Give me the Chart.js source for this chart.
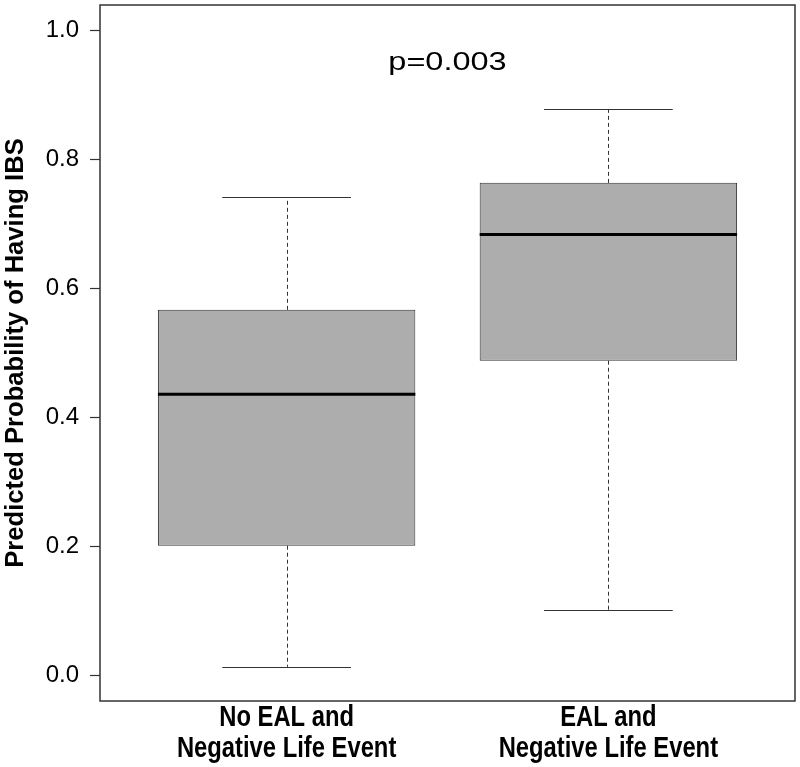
<!DOCTYPE html>
<html>
<head>
<meta charset="utf-8">
<script src="https://cdn.jsdelivr.net/npm/chart.js@4.4.1/dist/chart.umd.min.js"></script>
<style>
  html, body { margin: 0; padding: 0; background: #fff; }
  canvas { display: block; }
</style>
</head>
<body>
<canvas id="chart" width="800" height="767"></canvas>
<script>
// box plot values
const groups = [['No EAL and', 'Negative Life Event'], ['EAL and', 'Negative Life Event']]
const positions = [1, 2]
const lowerWhisker = [0.013, 0.101]
const q1 = [0.201, 0.488]
const median = [0.436, 0.684]
const q3 = [0.567, 0.764]
const upperWhisker = [0.742, 0.878]
const yTicks = [0.0, 0.2, 0.4, 0.6, 0.8, 1.0]
const pLabel = 'p=0.003'
const pPosition = [1.5, 0.95]

const boxWidth = 0.8
const capWidth = 0.4

const boxPlotPlugin = {
  id: 'boxPlot',
  afterDatasetsDraw (chart) {
    const ctx = chart.ctx
    const x = chart.scales.x
    const y = chart.scales.y
    ctx.save()
    positions.forEach((pos, i) => {
      const cx = Math.round(x.getPixelForValue(pos)) + 0.5
      // whiskers
      ctx.strokeStyle = '#333'
      ctx.lineWidth = 1
      ctx.setLineDash([4, 3])
      ctx.beginPath()
      ctx.moveTo(cx, y.getPixelForValue(q3[i]))
      ctx.lineTo(cx, y.getPixelForValue(upperWhisker[i]))
      ctx.moveTo(cx, y.getPixelForValue(q1[i]))
      ctx.lineTo(cx, y.getPixelForValue(lowerWhisker[i]))
      ctx.stroke()
      // caps
      ctx.setLineDash([])
      ctx.beginPath()
      const cl = x.getPixelForValue(pos - capWidth / 2)
      const cr = x.getPixelForValue(pos + capWidth / 2)
      const top = Math.round(y.getPixelForValue(upperWhisker[i])) + 0.5
      const bottom = Math.round(y.getPixelForValue(lowerWhisker[i])) + 0.5
      ctx.moveTo(cl, top)
      ctx.lineTo(cr, top)
      ctx.moveTo(cl, bottom)
      ctx.lineTo(cr, bottom)
      ctx.stroke()
      // median
      ctx.strokeStyle = '#000'
      ctx.lineWidth = 3
      ctx.beginPath()
      ctx.moveTo(x.getPixelForValue(pos - boxWidth / 2), y.getPixelForValue(median[i]))
      ctx.lineTo(x.getPixelForValue(pos + boxWidth / 2), y.getPixelForValue(median[i]))
      ctx.stroke()
    })
    // p value annotation
    ctx.font = '26px "Liberation Sans", Arial, sans-serif'
    ctx.fillStyle = '#000'
    ctx.textAlign = 'center'
    ctx.textBaseline = 'middle'
    ctx.translate(x.getPixelForValue(pPosition[0]), y.getPixelForValue(pPosition[1]))
    ctx.scale(1.25, 1)
    ctx.fillText(pLabel, 0, 0)
    ctx.restore()
  },
  afterDraw (chart) {
    const a = chart.chartArea
    const ctx = chart.ctx
    const x = chart.scales.x
    ctx.save()
    ctx.strokeStyle = '#333'
    ctx.lineWidth = 1.5
    ctx.strokeRect(a.left, a.top, a.right - a.left, a.bottom - a.top)
    // group labels under the axis (condensed bold, as in the figure)
    ctx.font = 'bold 29px "Liberation Sans", Arial, sans-serif'
    ctx.fillStyle = '#000'
    ctx.textAlign = 'center'
    ctx.textBaseline = 'alphabetic'
    positions.forEach((pos, i) => {
      groups[i].forEach((line, j) => {
        ctx.save()
        ctx.translate(x.getPixelForValue(pos), a.bottom + 25 + j * 31)
        ctx.scale(0.82, 1)
        ctx.fillText(line, 0, 0)
        ctx.restore()
      })
    })
    ctx.restore()
  }
}

new Chart(document.getElementById('chart'), {
  type: 'bar',
  data: {
    datasets: [{
      data: positions.map((p, i) => ({ x: p, y: [q1[i], q3[i]] })),
      backgroundColor: '#adadad',
      borderColor: '#333',
      borderWidth: 1,
      borderSkipped: false,
      barPercentage: 1,
      categoryPercentage: boxWidth
    }]
  },
  options: {
    responsive: false,
    animation: false,
    layout: { padding: { top: 5, right: 5, left: 0, bottom: 0 } },
    plugins: { legend: { display: false }, tooltip: { enabled: false } },
    scales: {
      x: {
        type: 'linear',
        offset: false,
        min: 0.42,
        max: 2.58,
        grid: { display: false },
        border: { display: false },
        afterBuildTicks (scale) { scale.ticks = positions.map(v => ({ value: v })) },
        afterFit (scale) {
          scale.height = 66
          scale.paddingLeft = 0
          scale.paddingRight = 0
        },
        ticks: { display: false }
      },
      y: {
        type: 'linear',
        min: -0.04,
        max: 1.04,
        grid: { drawOnChartArea: false, drawTicks: true, tickLength: 10, tickColor: '#333', tickWidth: 1.2 },
        border: { display: false },
        afterBuildTicks (scale) { scale.ticks = yTicks.map(v => ({ value: v })) },
        afterFit (scale) {
          scale.width = 100
          scale.paddingTop = 0
          scale.paddingBottom = 0
        },
        ticks: {
          padding: 11,
          color: '#000',
          font: { family: '"Liberation Sans", Arial', size: 24 },
          callback: (v) => v.toFixed(1)
        },
        title: {
          display: true,
          text: 'Predicted Probability of Having IBS',
          color: '#000',
          padding: { top: 1, bottom: 0 },
          font: { family: '"Liberation Sans", Arial', size: 25.6, weight: 'bold', lineHeight: 1.2 }
        }
      }
    }
  },
  plugins: [boxPlotPlugin]
})
</script>
</body>
</html>
